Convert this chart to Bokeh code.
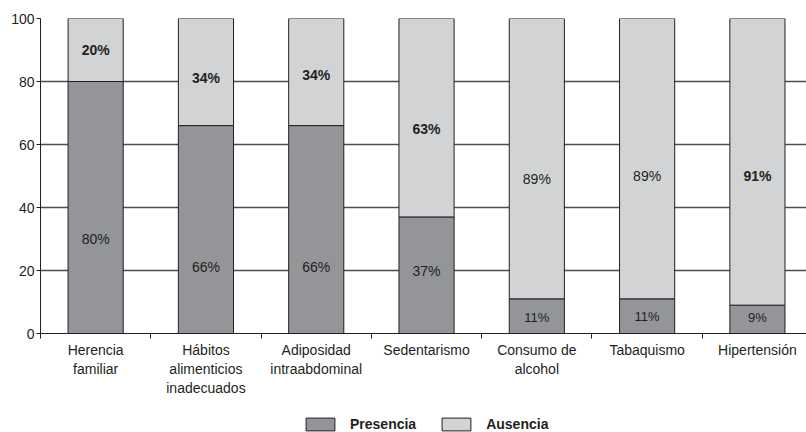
from bokeh.plotting import figure
from bokeh.layouts import column
from bokeh.models import (ColumnDataSource, Range1d, FixedTicker, Legend, LegendItem)
from bokeh.core.properties import value
from bokeh.embed import file_html
from bokeh.resources import INLINE

categories = ["Herencia\nfamiliar", "Hábitos\nalimenticios\ninadecuados", "Adiposidad\nintraabdominal",
              "Sedentarismo", "Consumo de\nalcohol", "Tabaquismo", "Hipertensión"]
presencia = [80, 66, 66, 37, 11, 11, 9]
ausencia = [20, 34, 34, 63, 89, 89, 91]
series_names = ["Presencia", "Ausencia"]
# label anchor heights
pres_label_y = [30, 21, 21, 20, 5, 5.3, 5]
aus_label_y = [90, 81, 82, 65, 49, 50, 50]
aus_bold = [True, True, True, True, False, False, True]
yticks = [0, 20, 40, 60, 80, 100]

DARK = "#939598"
LIGHT = "#d1d3d4"
INK = "#231f20"
FONT = "Liberation Sans"

n = len(categories)
xs = [i + 0.5 for i in range(n)]

p = figure(width=806, height=398, output_backend="svg", toolbar_location=None,
           x_range=Range1d(0, 6.945), y_range=Range1d(0, 100),
           min_border_left=40, min_border_right=0, min_border_top=18, min_border_bottom=65)
p.outline_line_color = None
p.background_fill_color = "white"

src = ColumnDataSource(dict(x=xs, pres=presencia, aus=ausencia))
rs = p.vbar_stack(["pres", "aus"], x="x", width=0.5, source=src,
                  fill_color=[DARK, LIGHT], line_color=INK, line_width=1)

# labels
def add_labels(xv, yv, tv, bold, size):
    s = ColumnDataSource(dict(x=xv, y=yv, t=tv))
    p.text(x="x", y="y", text="t", source=s, text_align="center", text_baseline="middle",
           text_font=value(FONT), text_font_size=value(size), text_color=INK,
           text_font_style="bold" if bold else "normal")

big_p = [i for i in range(n) if presencia[i] >= 20]
small_p = [i for i in range(n) if presencia[i] < 20]
add_labels([xs[i] for i in big_p], [pres_label_y[i] for i in big_p],
           [f"{presencia[i]}%" for i in big_p], False, "14px")
add_labels([xs[i] for i in small_p], [pres_label_y[i] for i in small_p],
           [f"{presencia[i]}%" for i in small_p], False, "13px")
b = [i for i in range(n) if aus_bold[i]]
nb = [i for i in range(n) if not aus_bold[i]]
add_labels([xs[i] for i in b], [aus_label_y[i] for i in b], [f"{ausencia[i]}%" for i in b], True, "14px")
add_labels([xs[i] for i in nb], [aus_label_y[i] for i in nb], [f"{ausencia[i]}%" for i in nb], False, "14px")

# grid
p.xgrid.visible = False
p.ygrid.ticker = FixedTicker(ticks=yticks[1:])
p.ygrid.grid_line_color = "#4d4d4d"
p.ygrid.grid_line_width = 1.5

# y axis
ya = p.yaxis[0]
ya.ticker = FixedTicker(ticks=yticks)
ya.axis_line_color = INK
ya.major_tick_line_color = INK
ya.major_tick_out = 4
ya.major_tick_in = 0
ya.minor_tick_line_color = None
ya.major_label_standoff = 2
ya.major_label_text_font = FONT
ya.major_label_text_font_size = "14px"
ya.major_label_text_color = INK

# x axis
xa = p.xaxis[0]
xa.ticker = FixedTicker(ticks=xs, minor_ticks=list(range(n + 1)))
xa.major_label_overrides = {x: c for x, c in zip(xs, categories)}
xa.axis_line_color = INK
xa.major_tick_line_color = None
xa.major_tick_out = 0
xa.major_tick_in = 0
xa.minor_tick_line_color = INK
xa.minor_tick_out = 5
xa.minor_tick_in = 0
xa.major_label_standoff = 3
xa.major_label_text_font = FONT
xa.major_label_text_font_size = "14px"
xa.major_label_text_color = INK

# legend strip
pl = figure(width=806, height=34, output_backend="svg", toolbar_location=None,
            x_axis_type=None, y_axis_type=None,
            x_range=Range1d(0, 1), y_range=Range1d(0, 1),
            min_border_left=0, min_border_right=0, min_border_top=0, min_border_bottom=0)
pl.grid.visible = False
pl.outline_line_color = None
dummy = ColumnDataSource(dict(x=[-50], top=[-50]))
lr = [pl.vbar(x="x", top="top", bottom="top", width=0.1, source=dummy, fill_color=c, line_color=INK)
      for c in (DARK, LIGHT)]
legend = Legend(items=[LegendItem(label=series_names[i], renderers=[lr[i]]) for i in range(2)],
                location=(262, 0), orientation="horizontal")
legend.border_line_color = None
legend.background_fill_alpha = 0
legend.padding = 0
legend.margin = 0
legend.glyph_width = 36
legend.glyph_height = 16
legend.label_height = 16
legend.label_standoff = 12
legend.spacing = 22
legend.label_text_font = FONT
legend.label_text_font_size = "14px"
legend.label_text_font_style = "bold"
legend.label_text_color = INK
pl.add_layout(legend)

layout = column(p, pl, spacing=0)
open("out.html", "w").write(file_html(layout, INLINE))
